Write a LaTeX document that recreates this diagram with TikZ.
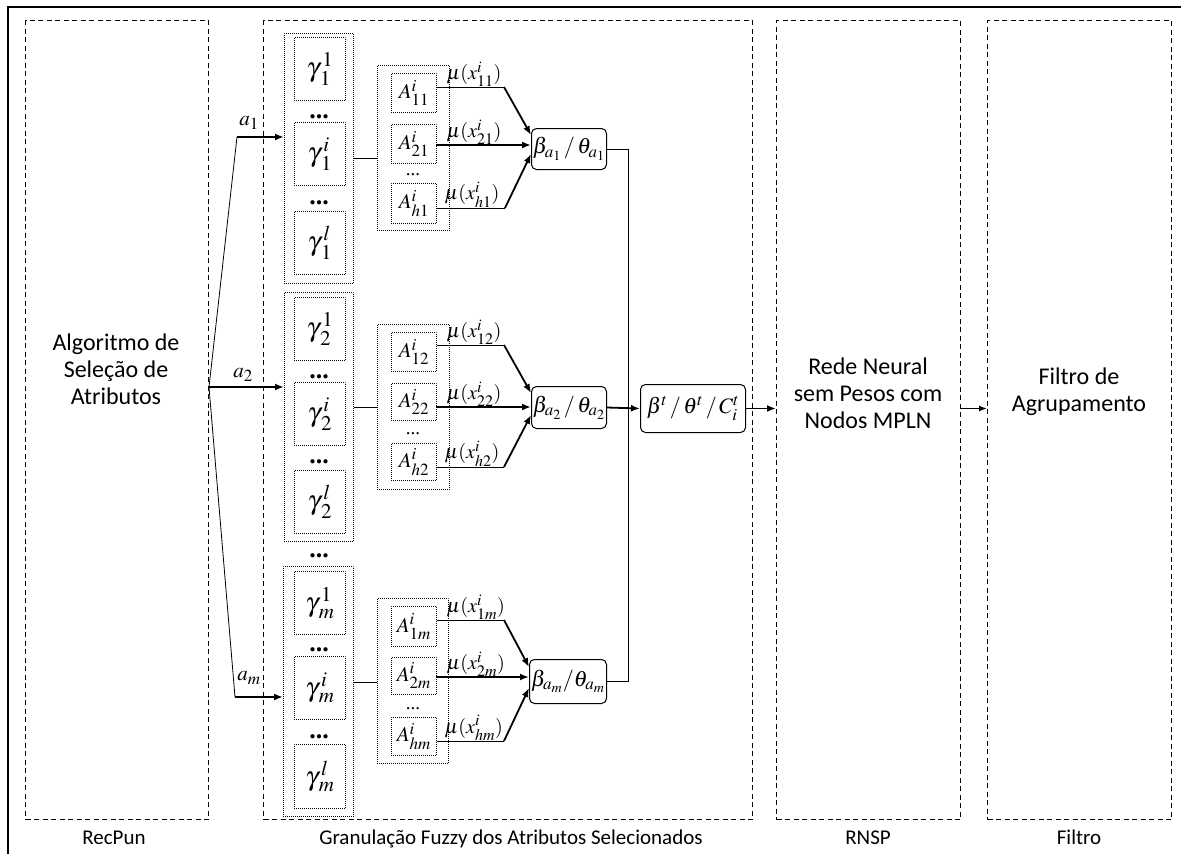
\documentclass[tikz,border=0pt]{standalone}
\usepackage{mathptmx}
\usepackage{fontspec}
\setmainfont{Liberation Serif}
\newfontfamily\calib{Carlito}
\usetikzlibrary{arrows.meta}
\DeclareMathSizes{27}{27}{21}{16}
\DeclareMathSizes{21}{21}{17}{14}
\DeclareMathSizes{20}{20}{16}{13}
\DeclareMathSizes{22}{22}{17}{14}
\tikzset{
  frame/.style={line width=1.3pt},
  dashbox/.style={draw, line width=1.1pt, dash pattern=on 5pt off 3.5pt, inner sep=0pt, anchor=north west},
  dotbox/.style={draw, line width=0.9pt, dash pattern=on 0.9pt off 1.1pt, inner sep=0pt, anchor=north west},
  rbox/.style={draw, line width=1pt, rounded corners=5pt, inner sep=0pt, anchor=north west},
  thinl/.style={line width=0.8pt},
  thickarr/.style={line width=1.8pt, -{Latex[length=9pt,width=7pt]}},
  midarr/.style={line width=1.4pt, -{Latex[length=8pt,width=6pt]}},
  bigtxt/.style={font=\calib\fontsize{24}{27}\selectfont, align=center, inner sep=0pt},
  labtxt/.style={font=\calib\fontsize{21}{24}\selectfont, anchor=base, inner sep=0pt},
  gtxt/.style={font=\fontsize{27}{27}\selectfont},
  atxt/.style={font=\fontsize{21}{21}\selectfont},
  mulab/.style={font=\fontsize{20}{20}\selectfont, anchor=south west, inner sep=0.5pt},
  btxt/.style={font=\fontsize{22}{22}\selectfont},
  gdots/.style={font=\bfseries\fontsize{26}{26}\selectfont, anchor=base, inner sep=0pt},
  adots/.style={font=\fontsize{19}{19}\selectfont, anchor=base, inner sep=0pt},
  avar/.style={font=\fontsize{21}{21}\selectfont, inner sep=0pt}
}
\newcommand\gam[2]{$\gamma_{\,#1}^{\,#2}$}
\begin{document}
\begin{tikzpicture}[x=1pt,y=-1pt]
\useasboundingbox (0,0) rectangle (1181,854);
\draw[frame] (8,854) -- (8,7) -- (1181,7);

% dashed stage boxes
\node[dashbox, minimum width=183pt, minimum height=799pt] (recpun) at (25,20) {};
\node[dashbox, minimum width=489pt, minimum height=799pt] (gran) at (263,20) {};
\node[dashbox, minimum width=184pt, minimum height=799pt] (rnsp) at (776,20) {};
\node[dashbox, minimum width=184pt, minimum height=799pt] (filtro) at (987,20) {};

% stage texts
\node[bigtxt] (algt) at (116,369) {Algoritmo de\\Seleção de\\Atributos};
\node[bigtxt] (redet) at (868,393) {Rede Neural\\sem Pesos com\\Nodos MPLN};
\node[bigtxt] (filtt) at (1079,392) {Filtro de\\Agrupamento};
\node[labtxt] (lrec) at (114,844) {RecPun};
\node[labtxt] (lgran) at (511,844) {Granulação Fuzzy dos Atributos Selecionados};
\node[labtxt] (lrnsp) at (868,844) {RNSP};
\node[labtxt] (lfil) at (1079,844) {Filtro};

% gamma groups
\node[dotbox, minimum width=69pt, minimum height=250pt] (G1) at (284,33) {};
\node[dotbox, gtxt, minimum width=51pt, minimum height=63pt] (g1a) at (294,37) {\gam{1}{1}};
\node[dotbox, gtxt, minimum width=51pt, minimum height=63pt] (g1b) at (294,122) {\gam{1}{i}};
\node[dotbox, gtxt, minimum width=51pt, minimum height=63pt] (g1c) at (294,211) {\gam{1}{l}};
\node[gdots] (d1a) at (319,118) {...};
\node[gdots] (d1b) at (319,204) {...};

\node[dotbox, minimum width=69pt, minimum height=249pt] (G2) at (284,292) {};
\node[dotbox, gtxt, minimum width=51pt, minimum height=63pt] (g2a) at (294,297) {\gam{2}{1}};
\node[dotbox, gtxt, minimum width=51pt, minimum height=63pt] (g2b) at (294,382) {\gam{2}{i}};
\node[dotbox, gtxt, minimum width=51pt, minimum height=63pt] (g2c) at (294,470) {\gam{2}{l}};
\node[gdots] (d2a) at (319,378) {...};
\node[gdots] (d2b) at (319,463) {...};
\node[gdots] (d2m) at (319,557) {...};

\node[dotbox, minimum width=70pt, minimum height=250pt] (Gm) at (283,566) {};
\node[dotbox, gtxt, minimum width=51pt, minimum height=63pt] (gma) at (294,571) {\gam{m}{1}};
\node[dotbox, gtxt, minimum width=51pt, minimum height=63pt] (gmb) at (294,656) {\gam{m}{i}};
\node[dotbox, gtxt, minimum width=51pt, minimum height=64pt] (gmc) at (294,744) {\gam{m}{l}};
\node[gdots] (dma) at (319,651) {...};
\node[gdots] (dmb) at (319,738) {...};

% attribute fan
\coordinate (fan) at (209,387);
\coordinate (f1) at (237,137);
\coordinate (fm) at (235,697);
\draw[thinl] (fan) -- (f1);
\draw[thinl] (fan) -- (fm);
\draw[thickarr] (f1) -- (f1 -| G1.west);
\draw[thickarr] (fan) -- (fan -| G2.west);
\draw[thickarr] (fm) -- (fm -| Gm.west);
\node[avar] (la1) at (249,123) {$a_{1}$};
\node[avar] (la2) at (243,375) {$a_{2}$};
\node[avar] (lam) at (249,678) {$a_{m}$};

% A groups
\node[dotbox, minimum width=72pt, minimum height=165pt] (AG1) at (377,65) {};
\node[dotbox, atxt, minimum width=45pt, minimum height=39pt] (A11) at (391,73) {$A^{i}_{11}$};
\node[dotbox, atxt, minimum width=45pt, minimum height=39pt] (A21) at (391,124) {$A^{i}_{21}$};
\node[dotbox, atxt, minimum width=45pt, minimum height=40pt] (Ah1) at (391,183) {$A^{i}_{h1}$};
\node[adots] (ad1) at (413,175) {...};

\node[dotbox, minimum width=72pt, minimum height=165pt] (AG2) at (377,324) {};
\node[dotbox, atxt, minimum width=45pt, minimum height=39pt] (A12) at (391,332) {$A^{i}_{12}$};
\node[dotbox, atxt, minimum width=45pt, minimum height=37pt] (A22) at (391,383) {$A^{i}_{22}$};
\node[dotbox, atxt, minimum width=45pt, minimum height=37pt] (Ah2) at (391,443) {$A^{i}_{h2}$};
\node[adots] (ad2) at (413,434) {...};

\node[dotbox, minimum width=71pt, minimum height=165pt] (AGm) at (377,598) {};
\node[dotbox, atxt, minimum width=45pt, minimum height=40pt] (A1m) at (391,606) {$A^{i}_{1m}$};
\node[dotbox, atxt, minimum width=45pt, minimum height=37pt] (A2m) at (391,657) {$A^{i}_{2m}$};
\node[dotbox, atxt, minimum width=45pt, minimum height=38pt] (Ahm) at (391,717) {$A^{i}_{hm}$};
\node[adots] (adm) at (413,709) {...};

% gamma -> A links
\coordinate (c1) at (353,158);
\coordinate (c2) at (353,407);
\coordinate (cm) at (353,682);
\draw[thinl] (c1 -| G1.east) -- (c1 -| AG1.west);
\draw[thinl] (c2 -| G2.east) -- (c2 -| AG2.west);
\draw[thinl] (cm -| Gm.east) -- (cm -| AGm.west);

% beta nodes
\node[rbox, btxt, minimum width=75pt, minimum height=41pt] (b1) at (531,128) {$\beta_{a_1}\,/\,\theta_{a_1}$};
\node[rbox, btxt, minimum width=75pt, minimum height=42pt] (b2) at (531,386) {$\beta_{a_2}\,/\,\theta_{a_2}$};
\node[rbox, btxt, minimum width=77pt, minimum height=44pt] (bm) at (529,659) {$\beta_{a_m}/\theta_{a_m}$};
\node[rbox, btxt, minimum width=105pt, minimum height=48pt] (C) at (640,384) {$\beta^{t}\,/\,\theta^{t}\,/\,C^{t}_{i}$};

% membership lines group 1
\coordinate (k1t) at (504,87);
\coordinate (k1m) at (436,145);
\coordinate (k1b) at (505,208);
\coordinate (e1t) at (531,135);
\coordinate (e1b) at (531,154);
\draw[thinl] (A11.east |- k1t) -- (k1t);
\draw[thickarr] (k1t) -- (e1t);
\draw[thickarr] (k1m) -- (k1m -| b1.west);
\draw[thinl] (Ah1.east |- k1b) -- (k1b);
\draw[thickarr] (k1b) -- (e1b);
\node[mulab] (mu11) at (446,87) {$\mu(x^{i}_{11})$};
\node[mulab] (mu21) at (446,145) {$\mu(x^{i}_{21})$};
\node[mulab] (muh1) at (444,208) {$\mu(x^{i}_{h1})$};

% group 2
\coordinate (k2t) at (504,345);
\coordinate (k2m) at (436,407);
\coordinate (k2b) at (504,467);
\coordinate (e2t) at (531,393);
\coordinate (e2b) at (531,415);
\draw[thinl] (A12.east |- k2t) -- (k2t);
\draw[thickarr] (k2t) -- (e2t);
\draw[thickarr] (k2m) -- (k2m -| b2.west);
\draw[thinl] (Ah2.east |- k2b) -- (k2b);
\draw[thickarr] (k2b) -- (e2b);
\node[mulab] (mu12) at (446,345) {$\mu(x^{i}_{12})$};
\node[mulab] (mu22) at (446,407) {$\mu(x^{i}_{22})$};
\node[mulab] (muh2) at (444,467) {$\mu(x^{i}_{h2})$};

% group m
\coordinate (kmt) at (504,620);
\coordinate (kmm) at (436,677);
\coordinate (kmb) at (504,741);
\coordinate (emt) at (529,667);
\coordinate (emb) at (529,688);
\draw[thinl] (A1m.east |- kmt) -- (kmt);
\draw[thickarr] (kmt) -- (emt);
\draw[thickarr] (kmm) -- (kmm -| bm.west);
\draw[thinl] (Ahm.east |- kmb) -- (kmb);
\draw[thickarr] (kmb) -- (emb);
\node[mulab] (mu1m) at (446,620) {$\mu(x^{i}_{1m})$};
\node[mulab] (mu2m) at (446,677) {$\mu(x^{i}_{2m})$};
\node[mulab] (muhm) at (444,741) {$\mu(x^{i}_{hm})$};

% aggregation
\coordinate (vx) at (628,0);
\draw[thinl] (b1.east) -- (b1.east -| vx) -- (bm.east -| vx) -- (bm.east);
\draw[thickarr] (b2.east) -- (C.west);
\draw[thickarr] (C.east) -- (C.east -| rnsp.west);
\draw[midarr] (C.east -| rnsp.east) -- (C.east -| filtro.west);
\end{tikzpicture}
\end{document}
